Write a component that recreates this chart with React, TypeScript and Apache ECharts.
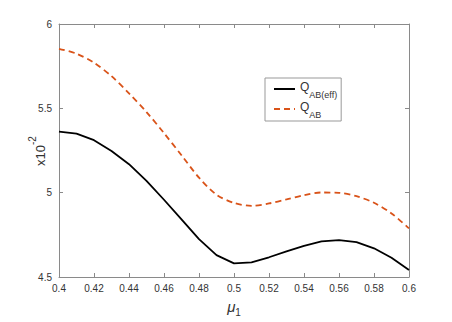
import React, { useEffect, useRef } from "react";
import * as echarts from "echarts";

const muValues = [0.40, 0.41, 0.42, 0.43, 0.44, 0.45, 0.46, 0.47, 0.48, 0.49, 0.50, 0.51, 0.52, 0.53, 0.54, 0.55, 0.56, 0.57, 0.58, 0.59, 0.60];
const qabEff = [5.362, 5.350, 5.311, 5.247, 5.169, 5.070, 4.958, 4.842, 4.725, 4.630, 4.581, 4.587, 4.617, 4.652, 4.685, 4.711, 4.719, 4.707, 4.670, 4.614, 4.541];
const qab = [5.853, 5.824, 5.770, 5.691, 5.589, 5.478, 5.353, 5.222, 5.089, 4.988, 4.939, 4.922, 4.936, 4.960, 4.985, 5.001, 4.999, 4.979, 4.940, 4.877, 4.788];
const seriesNames = ["Q_AB(eff)", "Q_AB"];

const AXIS_COLOR = "#8a8a8a";
const LABEL_COLOR = "#333333";
const FONT = "Liberation Sans, Arial, sans-serif";

export default function App() {
  const ref = useRef<HTMLDivElement>(null);
  useEffect(() => {
    if (!ref.current) return;
    const chart = echarts.init(ref.current, undefined, { renderer: "svg" });
    const pairs = (ys: number[]) => muValues.map((x, i) => [x, ys[i]]);
    const axisCommon = {
      axisLine: { show: true, lineStyle: { color: AXIS_COLOR, width: 1 } },
      axisTick: { show: true, inside: true, length: 4, lineStyle: { color: AXIS_COLOR } },
      splitLine: { show: false },
    };
    chart.setOption({
      animation: false,
      backgroundColor: "#ffffff",
      textStyle: { fontFamily: FONT },
      grid: { left: 59, right: 43, top: 24, bottom: 44 },
      legend: {
        orient: "vertical",
        left: 265,
        top: 78,
        padding: [3, 4, 2, 8],
        itemGap: 2,
        itemWidth: 21,
        itemHeight: 10,
        borderColor: "#999999",
        borderWidth: 1,
        backgroundColor: "#ffffff",
        itemStyle: { opacity: 0 },
        data: seriesNames,
        formatter: (name: string) => {
          const sub = name.replace("Q_", "");
          return `{q|Q}{s|${sub}}`;
        },
        textStyle: {
          fontFamily: FONT,
          color: LABEL_COLOR,
          rich: {
            q: { fontSize: 12, color: LABEL_COLOR, lineHeight: 20, verticalAlign: "middle", padding: [0, 0, 4, 0] },
            s: { fontSize: 9, color: LABEL_COLOR, lineHeight: 20, verticalAlign: "bottom" },
          },
        },
      },
      graphic: [
        {
          type: "text",
          x: 37,
          y: 151,
          rotation: Math.PI / 2,
          style: {
            text: "{x|x10}{e|-2}",
            fill: LABEL_COLOR,
            align: "center",
            verticalAlign: "middle",
            rich: {
              x: { fontSize: 13, fill: LABEL_COLOR, fontFamily: FONT, verticalAlign: "bottom", padding: [6, 0, 0, 0] },
              e: { fontSize: 10, fill: LABEL_COLOR, fontFamily: FONT, verticalAlign: "top" },
            },
          },
        },
      ],
      xAxis: [
        {
          ...axisCommon,
          type: "value",
          min: 0.4,
          max: 0.6,
          interval: 0.02,
          position: "bottom",
          axisLabel: {
            color: LABEL_COLOR,
            fontSize: 10,
            margin: 6,
            formatter: (v: number) => String(+v.toFixed(2)),
          },
          name: "{mu|μ}{s|1}",
          nameLocation: "middle",
          nameGap: 22,
          nameTextStyle: {
            color: LABEL_COLOR,
            rich: {
              mu: { fontSize: 15, fontStyle: "italic", color: LABEL_COLOR, fontFamily: FONT, verticalAlign: "top" },
              s: { fontSize: 10, color: LABEL_COLOR, fontFamily: FONT, verticalAlign: "bottom", padding: [8, 0, 0, 0] },
            },
          },
        },
        {
          ...axisCommon,
          type: "value",
          min: 0.4,
          max: 0.6,
          interval: 0.02,
          position: "top",
          axisLabel: { show: false },
        },
      ],
      yAxis: [
        {
          ...axisCommon,
          type: "value",
          min: 4.5,
          max: 6,
          interval: 0.5,
          position: "left",
          axisLabel: {
            color: LABEL_COLOR,
            fontSize: 10,
            margin: 7,
            formatter: (v: number) => String(+v.toFixed(1)),
          },
        },
        {
          ...axisCommon,
          type: "value",
          min: 4.5,
          max: 6,
          interval: 0.5,
          position: "right",
          axisLabel: { show: false },
        },
      ],
      series: [
        {
          name: seriesNames[0],
          type: "line",
          data: pairs(qabEff),
          showSymbol: false,
          symbol: "none",
          color: "#000000",
          lineStyle: { color: "#000000", width: 1.8 },
        },
        {
          name: seriesNames[1],
          type: "line",
          data: pairs(qab),
          showSymbol: false,
          symbol: "none",
          smooth: 0.3,
          color: "#D95319",
          lineStyle: { color: "#D95319", width: 1.8, type: [6, 4] },
        },
      ],
    });
    return () => chart.dispose();
  }, []);
  return (
    <div
      ref={ref}
      style={{ position: "absolute", left: 0, top: 0, width: 452, height: 322 }}
    />
  );
}
